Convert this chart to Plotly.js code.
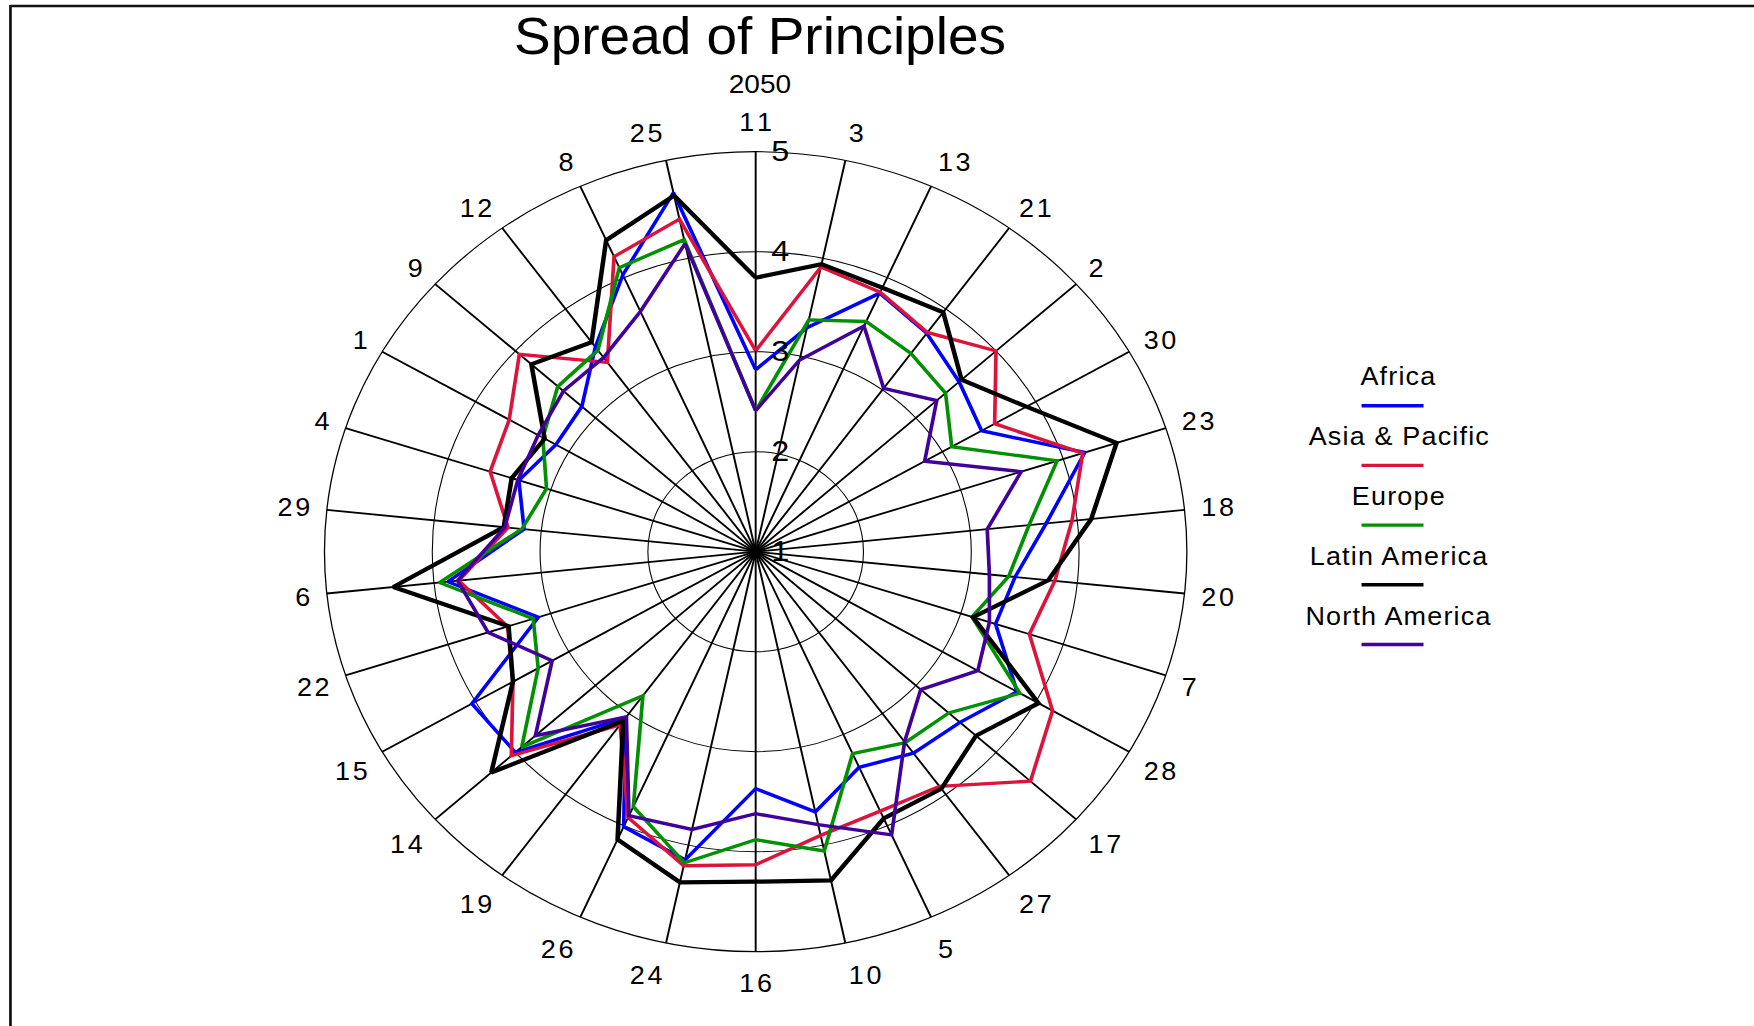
<!DOCTYPE html>
<html>
<head>
<meta charset="utf-8">
<script src="https://cdn.plot.ly/plotly-3.0.1.min.js"></script>
<style>
  html, body { margin: 0; padding: 0; background: #fff; overflow: hidden; }
  #chart { width: 1627px; height: 1026px; transform: scaleX(1.078); transform-origin: 0 0; }
</style>
</head>
<body>
<div id="chart"></div>
<script>
// Categories in clockwise order starting from the top
const categories = ['11','3','13','21','2','30','23','18','20','7','28','17','27','5','10','16','24','26','19','14','15','22','6','29','4','1','9','12','8','25'];

const seriesNames = ['Africa', 'Asia & Pacific', 'Europe', 'Latin America', 'North America'];

const africa       = [2.82,3.29,3.83,3.70,3.54,3.42,4.21,3.71,3.42,3.34,3.80,3.55,3.49,3.36,3.66,3.37,4.15,4.01,3.05,4.00,4.04,3.12,3.87,3.16,3.31,3.14,3.17,3.53,4.03,4.67];
const asiaPacific  = [3.01,3.91,3.84,3.71,4.00,3.56,4.19,3.95,3.79,3.67,4.18,4.43,3.90,3.84,3.90,4.13,4.21,3.91,3.14,4.05,3.60,3.42,3.77,3.31,3.59,3.64,3.95,3.34,4.23,4.40];
const europe       = [2.41,3.37,3.52,3.45,3.37,3.10,3.94,3.55,3.36,3.11,3.83,3.41,3.36,3.21,4.06,3.88,4.18,3.79,2.78,3.92,3.33,3.17,3.95,3.18,3.04,3.28,3.47,3.49,4.11,4.19];
const latinAmerica = [3.74,3.94,3.89,3.96,3.57,3.90,4.52,4.13,3.73,3.12,4.03,3.75,3.93,3.92,4.36,4.30,4.38,4.15,3.09,4.30,3.60,3.41,4.38,3.35,3.38,3.26,3.80,3.59,4.41,4.64];
const northAmerica = [2.41,2.96,3.47,3.02,3.26,2.81,3.59,3.16,3.18,3.28,3.38,3.06,3.35,4.10,3.79,3.62,3.84,3.89,3.04,3.75,3.18,3.61,3.78,3.34,3.32,3.33,3.40,3.40,3.63,4.15];

const radialTicks = [1, 2, 3, 4, 5];

const seriesValues = [africa, asiaPacific, europe, latinAmerica, northAmerica];
const colors = ['#0000ff', '#dc143c', '#009000', '#000000', '#42009a'];
const widths = [3.4, 3.4, 3.4, 4.2, 3.4];

const FONT = 'Liberation Sans, Arial, sans-serif';
const W = 1627, H = 1026;

const traces = seriesValues.map((vals, i) => ({
  type: 'scatterpolar',
  mode: 'lines',
  name: seriesNames[i],
  r: vals.concat([vals[0]]),
  theta: categories.concat([categories[0]]),
  line: { color: colors[i], width: widths[i] },
  showlegend: false,
  hoverinfo: 'skip'
}));

// spaced-out label text: extra letter spacing between characters only
function spaced(s, px) {
  if (s.length < 2) return s;
  return '<span style="letter-spacing:' + px + 'px">' + s.slice(0, -1) + '</span>' + s.slice(-1);
}

const annotations = [{
  text: '2050', xref: 'paper', yref: 'paper',
  x: 705.4 / W, y: 1 - 84 / H, xanchor: 'center', yanchor: 'middle',
  showarrow: false, font: { family: FONT, size: 26, color: '#000' }
}];
const shapes = [
  { type: 'line', xref: 'paper', yref: 'paper', x0: 9.7 / W, x1: 9.7 / W, y0: 1 - 5 / H, y1: -0.01, line: { color: '#111', width: 2.5 } },
  { type: 'line', xref: 'paper', yref: 'paper', x0: 9.7 / W, x1: 1.01, y0: 1 - 6 / H, y1: 1 - 6 / H, line: { color: '#111', width: 2.5 } }
];

seriesNames.forEach((name, i) => {
  annotations.push({
    text: '<span style="letter-spacing:1.1px">' + name.replace('&', '&amp;') + '</span>',
    xref: 'paper', yref: 'paper',
    x: 1297.5 / W, y: 1 - (376 + 59.9 * i) / H, xanchor: 'center', yanchor: 'middle',
    showarrow: false, font: { family: FONT, size: 25, color: '#000' }
  });
  shapes.push({
    type: 'line', xref: 'paper', yref: 'paper',
    x0: 1263 / W, x1: 1320.5 / W,
    y0: 1 - (405.7 + 59.7 * i) / H, y1: 1 - (405.7 + 59.7 * i) / H,
    line: { color: colors[i], width: 3.4 }
  });
});

const cx = 701.0, cy = 551.7, R = 400;

const layout = {
  width: W, height: H,
  margin: { l: 0, r: 0, t: 0, b: 0 },
  paper_bgcolor: '#fff',
  font: { family: FONT, color: '#000' },
  title: {
    text: 'Spread of Principles',
    font: { family: FONT, size: 51, color: '#000' },
    x: 705 / W, xanchor: 'center', xref: 'paper',
    y: 1 - 36 / H, yanchor: 'middle', yref: 'container'
  },
  showlegend: false,
  polar: {
    domain: { x: [(cx - R) / W, (cx + R) / W], y: [(H - cy - R) / H, (H - cy + R) / H] },
    bgcolor: '#fff',
    angularaxis: {
      type: 'category',
      categoryorder: 'array',
      categoryarray: categories,
      tickvals: categories,
      ticktext: categories.map(c => spaced(c, 2.5)),
      rotation: 90,
      direction: 'clockwise',
      showgrid: true, gridcolor: '#000', gridwidth: 1.8,
      showline: true, linecolor: '#000', linewidth: 1.2,
      ticks: 'outside', ticklen: 10, tickwidth: 0.01, tickcolor: 'rgba(0,0,0,0)',
      tickfont: { family: FONT, size: 25, color: '#000' }
    },
    radialaxis: {
      range: [1, 5],
      tickvals: radialTicks,
      ticktext: radialTicks.map(String),
      angle: 90,
      side: 'clockwise',
      showline: false,
      showgrid: true, gridcolor: '#000', gridwidth: 1,
      ticks: 'outside', ticklen: 8, tickwidth: 0.01, tickcolor: 'rgba(0,0,0,0)',
      tickangle: 90,
      tickfont: { family: FONT, size: 30, color: '#000' }
    }
  },
  annotations: annotations,
  shapes: shapes
};

Plotly.newPlot('chart', traces, layout, { staticPlot: true, displayModeBar: false });
</script>
</body>
</html>
